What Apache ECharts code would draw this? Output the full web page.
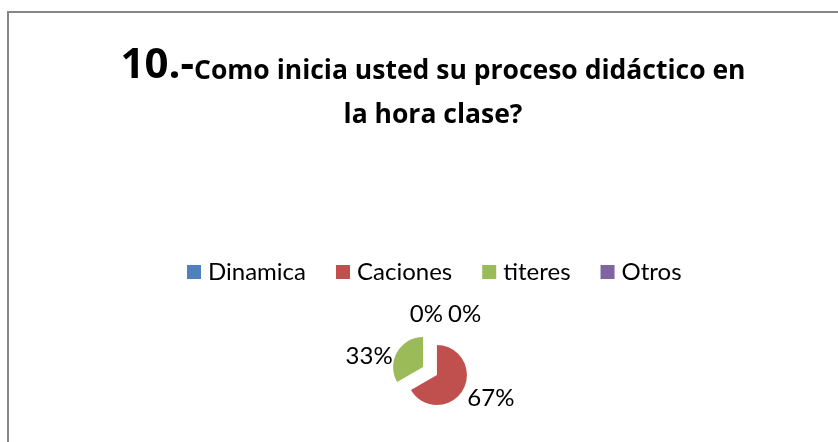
<!DOCTYPE html>
<html>
<head>
<meta charset="utf-8">
<script src="https://cdn.jsdelivr.net/npm/echarts@6/dist/echarts.min.js"></script>
<style>
  html, body { margin: 0; padding: 0; background: #fff; }
  #chart { width: 838px; height: 442px; }
</style>
</head>
<body>
<div id="chart"></div>
<script>
// Survey question 10: how the lesson is started
const questionNumber = '10.-';
const questionText = ['Como inicia usted su proceso didáctico en', 'la hora clase?'];
const categories = ['Dinamica', 'Caciones', 'titeres', 'Otros'];
const values = [0, 2, 1, 0];
const colors = ['#4F81BD', '#C0504D', '#9BBB59', '#8064A2'];

const FONT = 'Lato, "Open Sans", sans-serif';
const TITLE_FONT = '"Open Sans", Lato, sans-serif';

// index of the first non-empty slice: empty slices before it sit at the start of the sweep
const firstFilled = values.findIndex(function (v) { return v > 0; });

const chart = echarts.init(document.getElementById('chart'), null, { renderer: 'canvas' });

chart.setOption({
  backgroundColor: '#ffffff',
  animation: false,
  color: colors,
  graphic: [{
    type: 'rect',
    shape: { x: 8, y: 12, width: 900, height: 500 },
    style: { fill: 'none', stroke: '#868686', lineWidth: 2 },
    silent: true
  }],
  title: {
    left: 428,
    top: 39,
    textAlign: 'center',
    text: '{n|' + questionNumber + '}{q|' + questionText[0] + '}\n{r|' + questionText[1] + '}',
    textStyle: {
      rich: {
        n: { fontFamily: TITLE_FONT, fontWeight: 'bold', fontSize: 42, color: '#000', lineHeight: 44 },
        q: { fontFamily: TITLE_FONT, fontWeight: 'bold', fontSize: 26.5, color: '#000', lineHeight: 44, padding: [11, 0, 0, 0] },
        r: { fontFamily: TITLE_FONT, fontWeight: 'bold', fontSize: 26.5, color: '#000', lineHeight: 54 }
      }
    }
  },
  legend: {
    left: 187,
    top: 260,
    padding: 0,
    icon: 'rect',
    itemWidth: 14,
    itemHeight: 14,
    itemGap: 30,
    data: categories,
    textStyle: { fontFamily: FONT, fontSize: 24, color: '#000', padding: [0, 0, 0, 2] }
  },
  series: [{
    type: 'pie',
    center: [430, 371],
    radius: 30,
    startAngle: 90,
    clockwise: true,
    selectedMode: 'multiple',
    selectedOffset: 8,
    avoidLabelOverlap: false,
    minShowLabelAngle: -1,
    label: {
      show: true,
      position: 'outside',
      distanceToLabelLine: 1,
      formatter: function (p) { return Math.round(p.percent) + '%'; },
      fontFamily: FONT,
      fontSize: 24,
      color: '#000'
    },
    labelLine: { show: false, length: 4, length2: 0 },
    // empty slices sit at 12 o'clock: lift their labels above the pie,
    // the one opening the sweep to the right, the one closing it to the left
    labelLayout: function (p) {
      if (values[p.dataIndex] !== 0) {
        return { dy: 6 };
      }
      return p.dataIndex < firstFilled
        ? { dx: 19, dy: -15, align: 'left' }
        : { dx: 14, dy: -15, align: 'right' };
    },
    emphasis: { disabled: true },
    data: categories.map(function (name, i) {
      return { name: name, value: values[i], selected: true };
    })
  }]
});
</script>
</body>
</html>
